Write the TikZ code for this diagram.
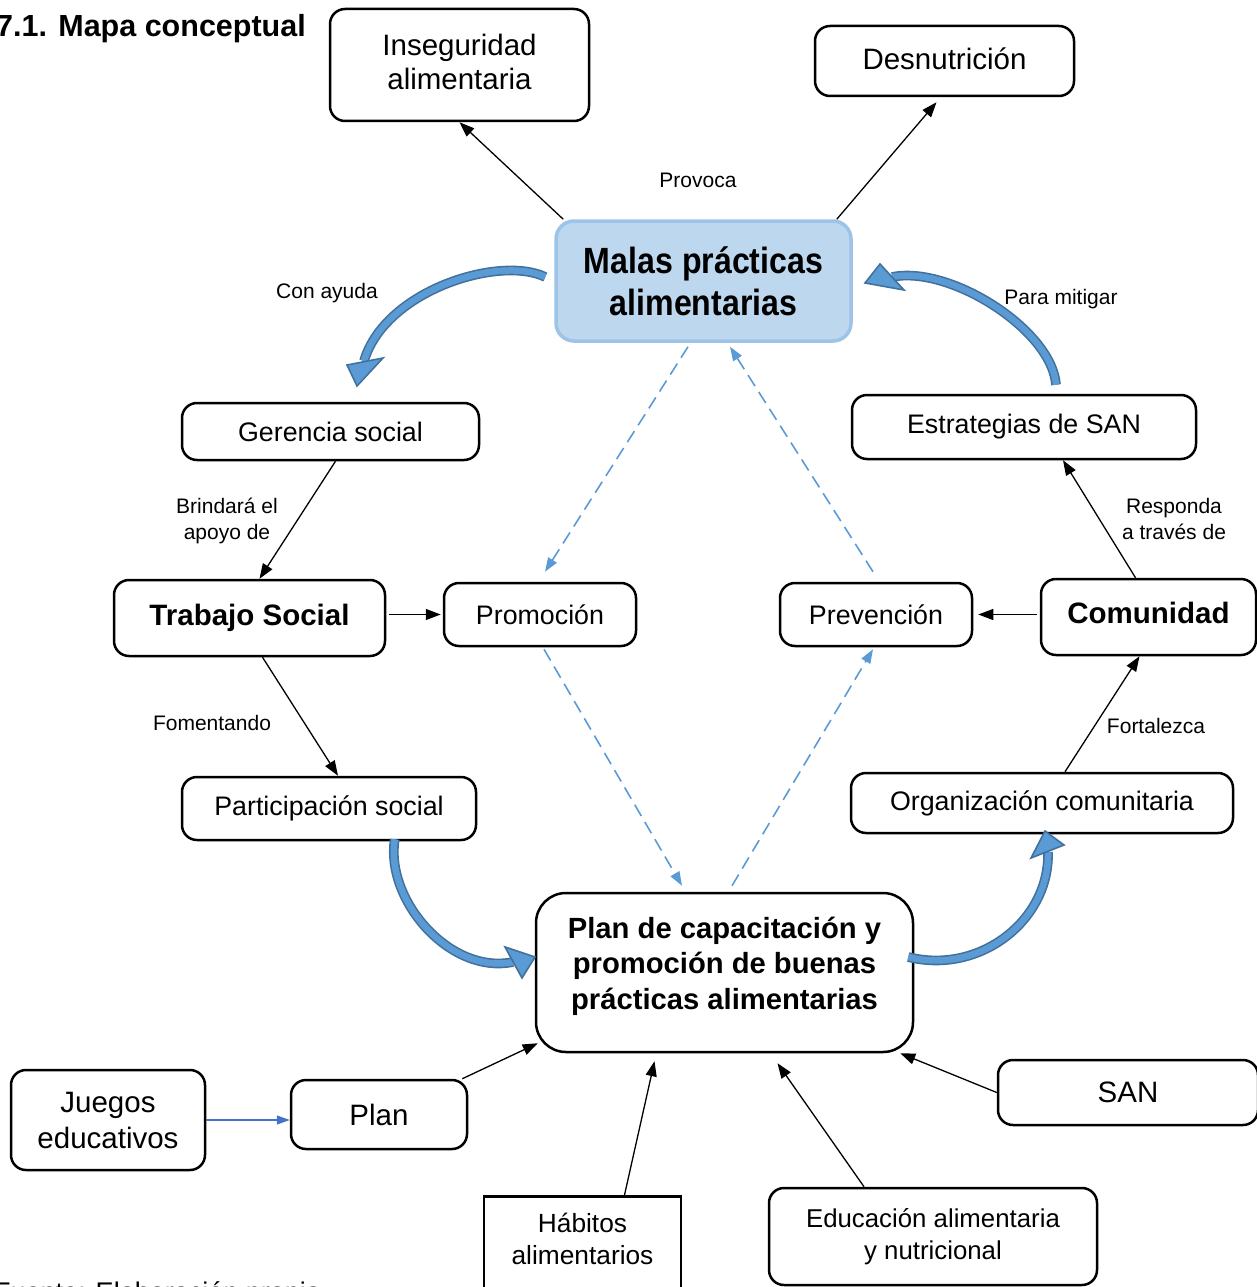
\documentclass[tikz,border=0pt]{standalone}
\usepackage{fontspec}
\setmainfont{Liberation Sans}
\newfontfamily\condfont[FakeStretch=0.88]{Liberation Sans}
\usetikzlibrary{arrows.meta,calc}
\definecolor{bluefill}{HTML}{5B9BD5}
\definecolor{blueedge}{HTML}{41719C}
\definecolor{lightfill}{HTML}{BDD7EE}
\definecolor{lightedge}{HTML}{9DC3E6}
\definecolor{thinblue}{HTML}{4472C4}
\tikzset{
  nb/.style={draw, line width=2.5pt, rounded corners=15pt, align=center, inner sep=0pt},
  fbig/.style={font=\fontsize{29.5}{36}\selectfont},
  fmid/.style={font=\fontsize{26.8}{32}\selectfont},
  fbold/.style={font=\bfseries\fontsize{29.5}{35}\selectfont},
  lbl/.style={font=\fontsize{21}{26}\selectfont, align=center, inner sep=0pt},
  arr/.style={line width=1.3pt, -{Triangle[length=15pt,width=11pt]}},
  darr/.style={line width=1.6pt, bluefill, dash pattern=on 13pt off 7pt, -{Triangle[length=14pt,width=10pt]}},
  shaft/.style={draw=blueedge, double=bluefill, line width=1.6pt, double distance=6.5pt},
  headtri/.style={fill=bluefill, draw=blueedge, line width=1.6pt, line join=miter}
}
\begin{document}
\begin{tikzpicture}[x=1pt,y=-1pt]
\useasboundingbox (0,0) rectangle (1257,1287);
\clip (0,0) rectangle (1257,1287);

% title and source
\node[anchor=base east, inner sep=0pt, font=\bfseries\fontsize{30.5}{36}\selectfont] (title) at (306,37) {7.1. Mapa conceptual};
\node[anchor=base west, inner sep=0pt, font=\fontsize{27}{32}\selectfont] (source) at (-6,1301) {Fuente: Elaboración propia};

% nodes
\node[nb, fbig, minimum width=259pt, minimum height=112pt] (ins) at (459.5,65) {\raisebox{6pt}{\shortstack{Inseguridad\\[3pt]alimentaria}}};
\node[nb, fbig, minimum width=259pt, minimum height=70pt] (des) at (944.5,61) {\raisebox{5pt}{Desnutrición}};
\node[nb, draw=lightedge, fill=lightfill, line width=3.5pt, rounded corners=18pt, minimum width=295pt, minimum height=120pt, font=\condfont\bfseries\fontsize{36.5}{42}\selectfont] (mal) at (703.5,281) {Malas prácticas\\alimentarias};
\node[nb, fmid, minimum width=297pt, minimum height=57pt] (ger) at (330.5,431.5) {Gerencia social};
\node[nb, fmid, minimum width=344pt, minimum height=64pt] (est) at (1024,427) {Estrategias de SAN};
\node[nb, fbold, minimum width=271pt, minimum height=76pt] (tra) at (249.5,618) {Trabajo Social};
\node[nb, fmid, minimum width=192pt, minimum height=63pt] (pro) at (540,614.5) {Promoción};
\node[nb, fmid, minimum width=192pt, minimum height=63pt] (pre) at (876,614.5) {Prevención};
\node[nb, fbold, minimum width=215pt, minimum height=76pt] (com) at (1148.5,617) {\raisebox{9pt}{Comunidad}};
\node[nb, fmid, minimum width=294pt, minimum height=63pt] (par) at (329,808.5) {Participación social};
\node[nb, fmid, minimum width=382pt, minimum height=60pt] (org) at (1042,803) {Organización comunitaria};
\node[nb, rounded corners=30pt, minimum width=377pt, minimum height=159pt] (plc) at (724.5,972.5) {};
\node[align=center, inner sep=0pt, font=\bfseries\fontsize{29.2}{35.5}\selectfont] (plctext) at (724.5,966) {Plan de capacitación y\\promoción de buenas\\prácticas alimentarias};
\node[nb, fbig, minimum width=194pt, minimum height=100pt] (juv) at (108,1120) {Juegos\\educativos};
\node[nb, fbig, minimum width=176pt, minimum height=69pt] (pla) at (379,1114.5) {Plan};
\node[nb, fbig, minimum width=260pt, minimum height=65pt] (san) at (1128,1092.5) {SAN};
\node[nb, rounded corners=0pt, anchor=north, minimum width=197pt, minimum height=120pt] (hab) at (582.5,1195) {};
\node[align=center, inner sep=0pt, font=\fontsize{26.3}{32}\selectfont] (habtext) at (582.5,1239) {Hábitos\\alimentarios};
\node[nb, font=\fontsize{25.8}{32}\selectfont, minimum width=328pt, minimum height=97pt] (edu) at (933,1236.5) {Educación alimentaria\\y nutricional};

% labels
\node[lbl] (l1) at (698,180) {Provoca};
\node[lbl] (l2) at (327,293) {Con ayuda};
\node[lbl] (l3) at (1061,299) {Para mitigar};
\node[lbl] (l4) at (227,521) {Brindará el\\apoyo de};
\node[lbl] (l5) at (1174,519) {Responda\\a través de};
\node[lbl] (l6) at (212,723) {Fomentando};
\node[lbl] (l7) at (1156,726) {Fortalezca};

% black arrows
\draw[arr] ([xshift=9pt]mal.north west) -- (ins.south);
\draw[arr] ([xshift=-16pt]mal.north east) -- ([xshift=-8pt,yshift=-5pt]des.south);
\draw[arr] ([xshift=5pt]ger.south) -- ([xshift=10pt]tra.north);
\draw[arr] ([xshift=3pt]pro.west -| tra.east) -- ([xshift=-2pt]pro.west);
\draw[arr] ([xshift=-3pt]pre.east -| com.west) -- ([xshift=5pt]pre.east);
\draw[arr] ([xshift=13pt]tra.south) -- ([xshift=9pt]par.north);
\draw[arr] ([xshift=-13pt]com.north) -- ([xshift=39pt]est.south);
\draw[arr] ([xshift=23pt]org.north) -- ([xshift=-9pt]com.south);
\draw[arr] ([xshift=-6pt]pla.north east) -- ([xshift=3pt,yshift=10pt]plc.south west);
\draw[arr] ([xshift=42pt]hab.north) -- ([xshift=-70pt,yshift=-8pt]plc.south);
\draw[arr] ([xshift=-69pt]edu.north) -- ([xshift=53pt,yshift=-10pt]plc.south);
\draw[arr] (san.west) -- ([xshift=-14pt]plc.south east);
\draw[line width=1.2pt, thinblue, -{Triangle[length=13pt,width=9pt]}] (juv.east) -- (juv.east -| pla.west);

% dashed blue arrows
\draw[darr] ([xshift=-15.5pt,yshift=-4pt]mal.south) -- ([xshift=5pt,yshift=10pt]pro.north);
\draw[darr] ([xshift=-3pt,yshift=10pt]pre.north) -- ([xshift=26.5pt,yshift=-4pt]mal.south);
\draw[darr] ([xshift=4pt,yshift=-2pt]pro.south) -- ([xshift=-42.5pt,yshift=6pt]plc.north);
\draw[darr] ([xshift=7.5pt,yshift=6pt]plc.north) -- ([xshift=-3pt,yshift=-2pt]pre.south);

% curved block arrows
\coordinate (c1s) at ([xshift=-9pt,yshift=4pt]mal.west);
\draw[shaft] (c1s) .. controls (500,255) and (385,290) .. (364,361);
\filldraw[headtri] (347,365) -- (357,386) -- (383,358) -- cycle;

\coordinate (c2s) at ([xshift=32pt,yshift=9pt]est.north);
\draw[shaft] (c2s) .. controls (1052,330) and (950,265) .. (892,277);
\filldraw[headtri] (880,264) -- (865,283) -- (904,290) -- cycle;

\coordinate (c3s) at ([xshift=214pt,yshift=2pt]par.south west);
\draw[shaft] (c3s) .. controls (385,900) and (450,975) .. (513,962);
\filldraw[headtri] (505,947) -- (535,957) -- (522,978) -- cycle;

\coordinate (c4s) at ([xshift=-6pt,yshift=15.5pt]plc.east);
\draw[shaft] (c4s) .. controls (980,975) and (1050,920) .. (1048,852);
\filldraw[headtri] (1031,858) -- (1045,831) -- (1064,845) -- cycle;
\end{tikzpicture}
\end{document}
